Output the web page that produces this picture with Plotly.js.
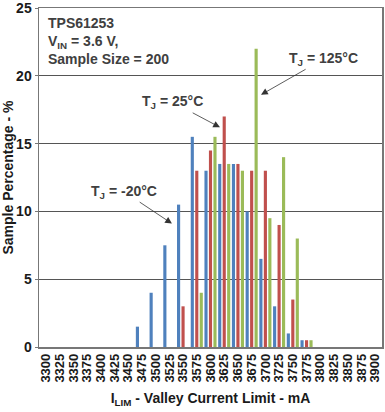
<!DOCTYPE html>
<html>
<head>
<meta charset="utf-8">
<script src="https://cdn.plot.ly/plotly-3.0.1.min.js"></script>
<style>html,body{margin:0;padding:0;background:#fff;}#chart{width:385px;height:412px;}</style>
</head>
<body>
<div id="chart"></div>
<script>
const categories = ['3300','3325','3350','3375','3400','3425','3450','3475','3500','3525','3550','3575','3600','3625','3650','3675','3700','3725','3750','3775','3800','3825','3850','3875','3900'];
const seriesNames = ['T<sub>J</sub> = -20°C', 'T<sub>J</sub> = 25°C', 'T<sub>J</sub> = 125°C'];
const tjMinus20 = [0,0,0,0,0,0,0,1.5,4,7.5,10.5,15.5,13,13.5,13.5,10,6.5,3,1,0.5,0,0,0,0,0];
const tj25      = [0,0,0,0,0,0,0,0,0,0,3,13,14.5,17,13.5,13,13,9,3.5,0.5,0,0,0,0,0];
const tj125     = [0,0,0,0,0,0,0,0,0,0,0,4,15.5,13.5,13,22,9.5,14,8,0.5,0,0,0,0,0];
const yTicks = [0, 5, 10, 15, 20, 25];
const infoText = 'TPS61253<br>V<sub>IN</sub> = 3.6 V,<br>Sample Size = 200';
const yTitle = 'Sample Percentage - %';
const xTitle = 'I<sub>LIM</sub> - Valley Current Limit - mA';

const colors = ['#4f81bd', '#c0504d', '#9bbb59'];
const FONT = 'Liberation Sans, Arial, sans-serif';
const series = [tjMinus20, tj25, tj125];

const traces = series.map((vals, i) => ({
  type: 'bar',
  x: categories,
  y: vals,
  name: seriesNames[i],
  marker: {color: colors[i], line: {width: 0}},
  hoverinfo: 'none',
  cliponaxis: false
}));

const annFont = {family: FONT, size: 14, color: '#404040', weight: 'bold'};
const arrowCommon = {showarrow: true, arrowhead: 2, arrowsize: 1.7, arrowwidth: 0.8, arrowcolor: '#333', standoff: 0, font: annFont, xref: 'x', yref: 'y', axref: 'pixel', ayref: 'pixel'};

const layout = {
  width: 385, height: 412,
  margin: {l: 39, r: 3, t: 8, b: 65, pad: 0},
  paper_bgcolor: '#fff', plot_bgcolor: '#fff',
  showlegend: false,
  barmode: 'group',
  bargap: 0.02,
  bargroupgap: 0.3,
  xaxis: {
    type: 'category',
    categoryorder: 'array', categoryarray: categories,
    tickmode: 'array', tickvals: categories, ticktext: categories,
    range: [-0.5, 24.5],
    tickangle: -90,
    ticklabeloverflow: 'allow',
    tickfont: {family: FONT, size: 13, color: '#1a1a1a', weight: 'bold'},
    showgrid: false, zeroline: false,
    showline: true, linecolor: '#777', linewidth: 1.5, mirror: true,
    ticks: '',
    title: {text: xTitle, font: {family: FONT, size: 14, color: '#1a1a1a', weight: 'bold'}, standoff: 11}
  },
  yaxis: {
    range: [0, 25],
    tickmode: 'array', tickvals: yTicks, ticktext: yTicks.map(String),
    ticklabeloverflow: 'allow',
    tickfont: {family: FONT, size: 14, color: '#1a1a1a', weight: 'bold'},
    showgrid: true, gridcolor: '#555', gridwidth: 1,
    zeroline: false,
    showline: true, linecolor: '#777', linewidth: 1.5, mirror: true,
    ticks: 'outside', ticklen: 3, tickcolor: '#777',
    title: {text: yTitle, font: {family: FONT, size: 14, color: '#1a1a1a', weight: 'bold'}, standoff: 6}
  },
  annotations: [
    {text: infoText, xref: 'paper', yref: 'paper', x: 0.02, y: 0.985, xanchor: 'left', yanchor: 'top', align: 'left', showarrow: false, font: annFont},
    Object.assign({}, arrowCommon, {text: seriesNames[0], x: 9.19, y: 9.1, ax: -48, ay: -32}),
    Object.assign({}, arrowCommon, {text: seriesNames[1], x: 12.69, y: 16.2, ax: -47, ay: -25}),
    Object.assign({}, arrowCommon, {text: seriesNames[2], x: 15.68, y: 18.6, ax: 63, ay: -36})
  ]
};

Plotly.newPlot('chart', traces, layout, {staticPlot: true, displayModeBar: false});
</script>
</body>
</html>
